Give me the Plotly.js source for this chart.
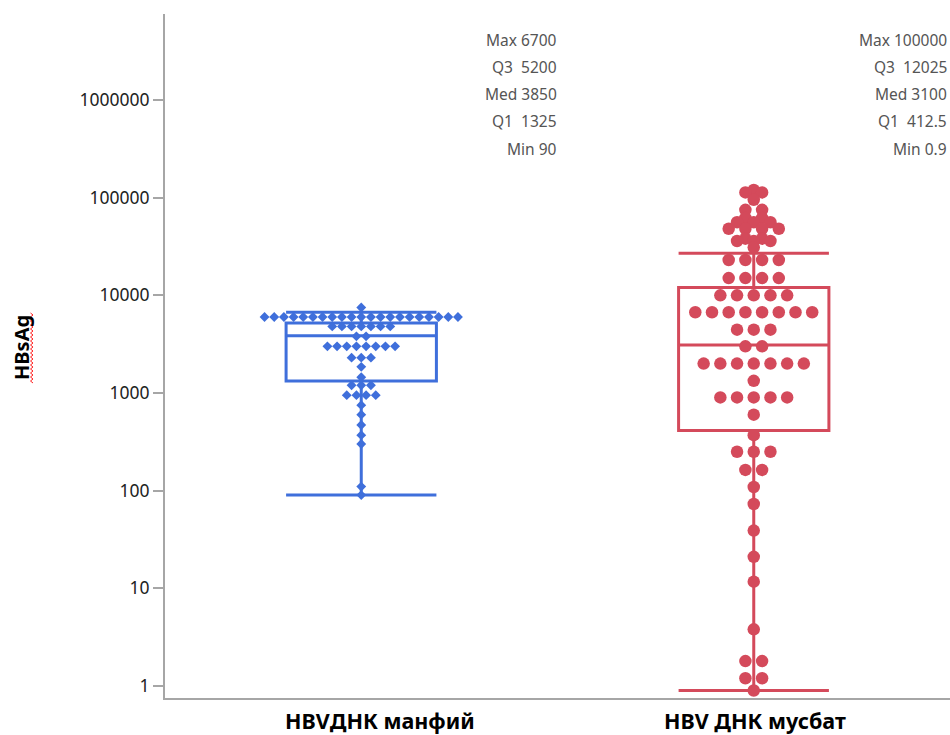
<!DOCTYPE html>
<html>
<head>
<meta charset="utf-8">
<script src="https://cdn.plot.ly/plotly-3.0.1.min.js"></script>
<style>html,body{margin:0;padding:0;background:#fff;}#chart{width:950px;height:735px;}</style>
</head>
<body>
<div id="chart"></div>
<script>
// ---- data ----
const categories = ["HBVДНК манфий", "HBV ДНК мусбат"];
const yTickVals = [1, 10, 100, 1000, 10000, 100000, 1000000];
const yTickText = ["1", "10", "100", "1000", "10000", "100000", "1000000"];

const negValues = [7500,
  6000,6000,6000,6000,6000,6000,6000,6000,6000,6000,6000,6000,6000,6000,6000,6000,6000,6000,6000,6000,6000,
  4800,4800,4800,4800,4800,4800,4800,
  3800,3800,
  3000,3000,3000,3000,3000,3000,3000,3000,
  2300,2300,2300,
  1850,
  1450,
  1200,1200,1200,
  950,950,950,950,
  750,600,470,370,300,
  110,90];

const posValues = [120000,
  113000,113000,
  95000,
  75000,75000,
  62000,62000,
  56000,56000,56000,
  48000,48000,48000,48000,
  38000,38000,
  36000,36000,36000,
  31000,
  23000,23000,23000,23000,
  15000,15000,15000,15000,
  10000,10000,10000,10000,10000,
  6700,6700,6700,6700,6700,6700,6700,6700,
  4450,4450,4450,
  3000,3000,
  2000,2000,2000,2000,2000,2000,2000,
  1330,
  900,900,900,900,900,
  600,370,
  250,250,250,
  163,163,
  109,73,39,21,11.7,3.8,
  1.8,1.8,
  1.2,1.2,
  0.9];

// box statistics
const boxQ1 = [1325, 412.5];
const boxMed = [3850, 3100];
const boxQ3 = [5200, 12025];
const boxLowerFence = [90, 0.9];
const boxUpperFence = [6700, 27000];
const statMax = ["6700", "100000"];
const statQ3 = ["5200", "12025"];
const statMed = ["3850", "3100"];
const statQ1 = ["1325", "412.5"];
const statMin = ["90", "0.9"];

// ---- styling / layout ----
const W = 950, H = 735;
const M = {l: 165, r: 0, t: 14, b: 37};
const pxPerUnit = (W - M.l - M.r) / 2;
const plotH = H - M.t - M.b;
const blue = '#3f6fdb';
const red = '#d44a5b';

function swarmX(vals, center, spacingPx) {
  const groups = new Map();
  vals.forEach((v, i) => {
    if (!groups.has(v)) groups.set(v, []);
    groups.get(v).push(i);
  });
  const xs = new Array(vals.length);
  groups.forEach(idx => {
    const n = idx.length;
    idx.forEach((i, k) => {
      xs[i] = center + ((k - (n - 1) / 2) * spacingPx) / pxPerUnit;
    });
  });
  return xs;
}

const colors = [blue, red];
const traces = [];
[0, 1].forEach(i => {
  traces.push({
    type: 'box', x: [i], q1: [boxQ1[i]], median: [boxMed[i]], q3: [boxQ3[i]],
    lowerfence: [boxLowerFence[i]], upperfence: [boxUpperFence[i]],
    width: 0.383, whiskerwidth: 1, boxpoints: false,
    line: {color: colors[i], width: 3}, fillcolor: 'rgba(0,0,0,0)',
    showlegend: false, hoverinfo: 'skip'
  });
});
traces.push({
  type: 'scatter', mode: 'markers', x: swarmX(negValues, 0, 9.67), y: negValues,
  marker: {symbol: 'diamond', size: 7.6, color: blue, line: {width: 0}},
  showlegend: false, hoverinfo: 'y'
});
traces.push({
  type: 'scatter', mode: 'markers', x: swarmX(posValues, 1, 16.7), y: posValues,
  marker: {symbol: 'circle', size: 12.5, color: red, line: {width: 0}},
  showlegend: false, hoverinfo: 'y'
});

const px2paperX = px => (px - M.l) / (W - M.l - M.r);
const px2paperY = py => (H - M.b - py) / plotH;

const annotations = [];
const statRows = [["Max ", statMax], ["Q3\u00a0\u00a0", statQ3], ["Med ", statMed], ["Q1\u00a0\u00a0", statQ1], ["Min ", statMin]];
const rowY = [40, 67, 94, 121, 149];
const colRight = [559, 949];
statRows.forEach((r, k) => {
  [0, 1].forEach(i => {
    annotations.push({
      xref: 'paper', yref: 'paper', x: px2paperX(colRight[i]), y: px2paperY(rowY[k]),
      xanchor: 'right', yanchor: 'middle', align: 'right', showarrow: false,
      text: r[0] + r[1][i],
      font: {family: 'Noto Sans, Open Sans, sans-serif', size: 15.5, color: '#555'}
    });
  });
});
// category labels (placed as in the reference: the first one sits a bit right of its box)
const catLabelCenterPx = [379.5, 755];
categories.forEach((c, i) => {
  annotations.push({
    xref: 'paper', yref: 'paper', x: px2paperX(catLabelCenterPx[i]), y: px2paperY(720),
    xanchor: 'center', yanchor: 'middle', showarrow: false, text: c,
    font: {family: 'Noto Sans, sans-serif', size: 21.5, color: '#000', weight: 'bold'}
  });
});
annotations.push({
  xref: 'paper', yref: 'paper', x: px2paperX(21), y: px2paperY(348),
  xanchor: 'center', yanchor: 'middle', showarrow: false, textangle: -90,
  text: 'HBsAg', font: {family: 'Noto Sans, sans-serif', size: 20, color: '#000', weight: 'bold'}
});

// spell-check style wavy underline under the axis title
let wave = '';
for (let py = 313, k = 0; py <= 383; py += 2, k++) {
  const pxx = (k % 2 === 0) ? 30.5 : 33;
  wave += (k === 0 ? 'M ' : ' L ') + px2paperX(pxx) + ',' + px2paperY(py);
}

const layout = {
  width: W, height: H, margin: M,
  paper_bgcolor: '#fff', plot_bgcolor: '#fff',
  showlegend: false,
  xaxis: {
    range: [-0.5, 1.5], tickvals: [0, 1], ticktext: ['', ''],
    showline: true, linecolor: '#a6a6a6', linewidth: 2, ticks: '',
    showgrid: false, zeroline: false
  },
  yaxis: {
    type: 'log', range: [-0.123, 6.88], tickvals: yTickVals, ticktext: yTickText,
    showline: true, linecolor: '#a6a6a6', linewidth: 2,
    ticks: 'outside', ticklen: 10, tickwidth: 2, tickcolor: '#a6a6a6',
    showgrid: false, zeroline: false,
    tickfont: {family: 'Noto Sans, sans-serif', size: 17.5, color: '#222'}
  },
  annotations: annotations,
  shapes: [{type: 'path', xref: 'paper', yref: 'paper', path: wave, line: {color: '#ff2020', width: 1}}]
};

Plotly.newPlot('chart', traces, layout, {displayModeBar: false, staticPlot: true});
</script>
</body>
</html>
